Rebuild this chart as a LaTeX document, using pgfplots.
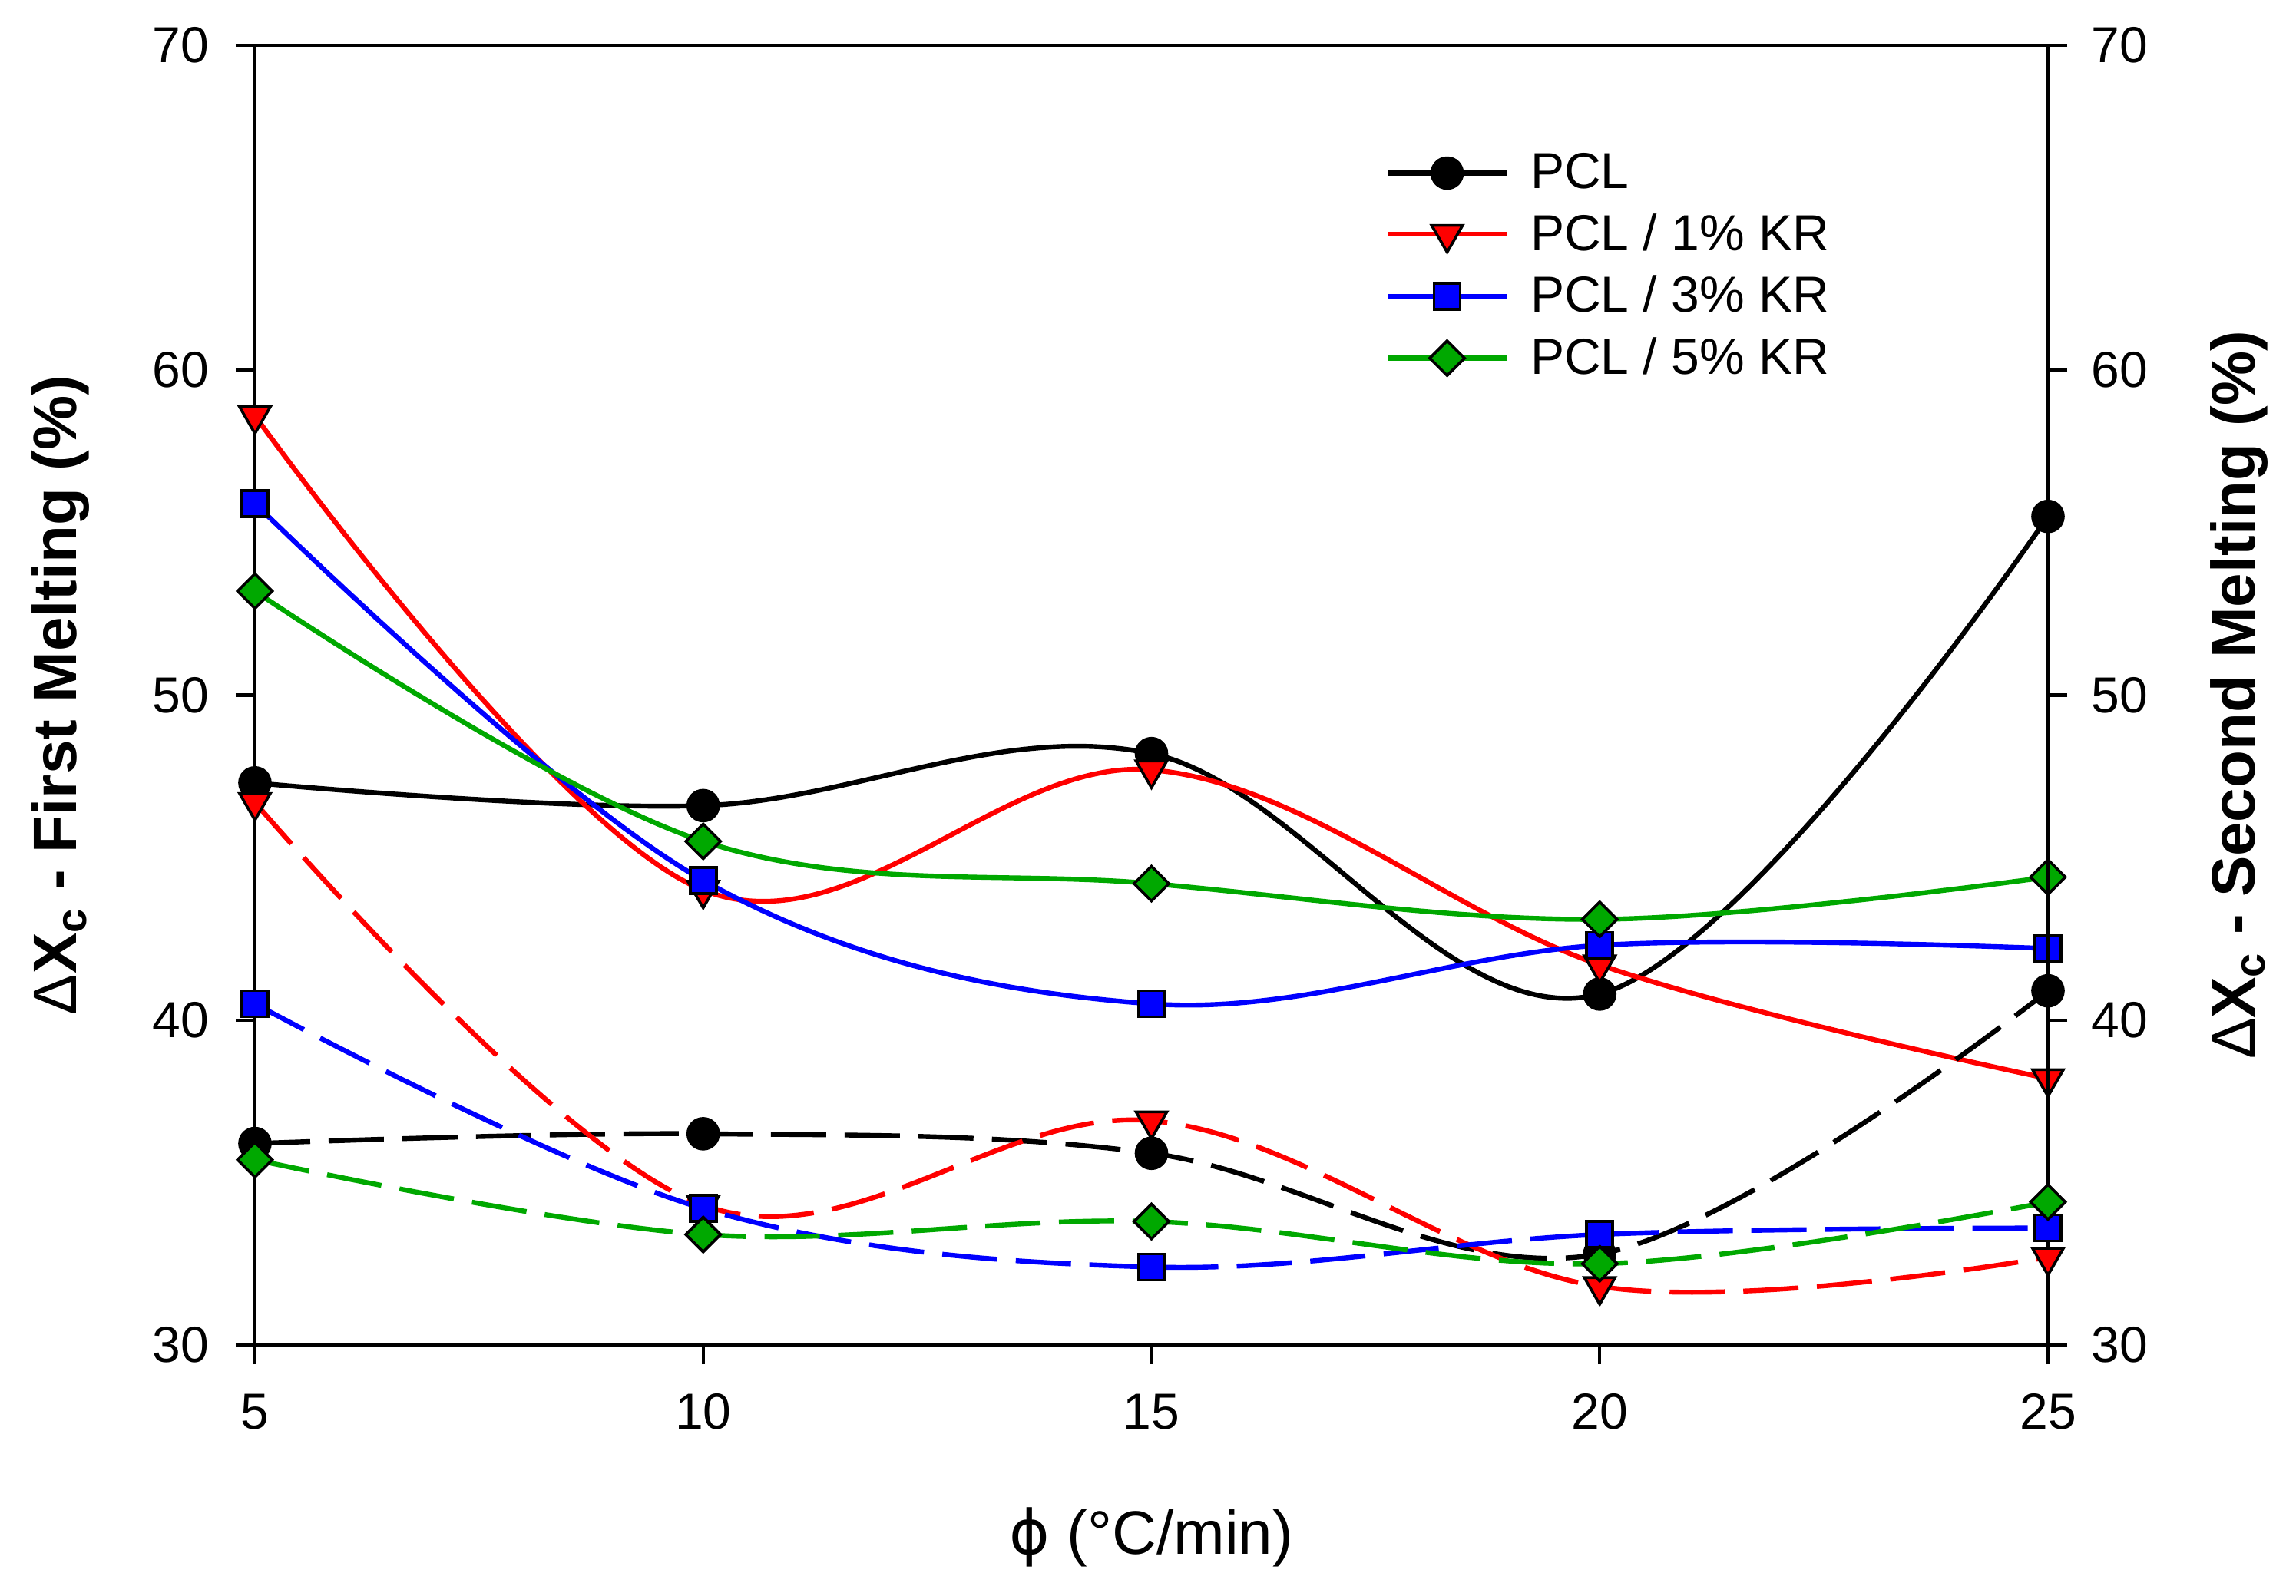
\documentclass[border=0pt]{standalone}
\usepackage{fontspec}
\setmainfont{Liberation Sans}
\newfontfamily\dejavu{DejaVu Sans}
\usepackage{pgfplots}
\pgfplotsset{compat=1.18}
\definecolor{spred}{RGB}{255,0,0}
\definecolor{spblue}{RGB}{0,0,255}
\definecolor{spgreen}{RGB}{0,168,0}
\tikzset{mk/.style={solid, draw=black, line width=0.9pt}}
\begin{document}
\begin{tikzpicture}
\useasboundingbox (-83pt,-81.75pt) rectangle (664.5pt,438pt);
\pgfplotsset{
  common/.style={
    at={(0pt,0pt)}, anchor=south west,
    scale only axis, width=583.75pt, height=423.25pt,
    xmin=5, xmax=25, ymin=30, ymax=70,
    clip=false,
    tick align=outside,
    major tick length=6.25pt,
    tick style={black, line width=1.1pt},
    axis line style={line width=1.1pt},
    tick label style={font=\fontsize{16.5}{18}\selectfont},
    /pgf/number format/assume math mode=true,
    ytick={30,40,50,60,70},
  },
  sol/.style={line width=1.6pt, smooth, tension=0.6},
  das/.style={line width=1.6pt, smooth, tension=0.6, dash pattern=on 18pt off 6pt},
}
\begin{axis}[common,
  xtick={5,10,15,20,25},
  xtick pos=left, ytick pos=left,
  xticklabel style={anchor=north, inner sep=0pt, yshift=-9.5pt},
  yticklabel style={anchor=east, inner sep=0pt, xshift=-8.5pt},
  xlabel={{\dejavu ϕ} (°C/min)},
  xlabel style={at={(axis description cs:0.5,-0.1607)}, anchor=base, font=\fontsize{20}{24}\selectfont},
  ylabel={{\mdseries Δ}X\textsubscript{c} - First Melting (\%)},
  ylabel style={at={(axis description cs:-0.0994,0.5)}, anchor=base, font=\fontsize{20}{24}\selectfont\bfseries},
  legend image code/.code={\draw[mark repeat=2,mark phase=2,#1] plot coordinates {(0pt,0pt) (19.375pt,0pt) (38.75pt,0pt)};},
  legend cell align=left,
  legend style={draw=none, fill=none, inner sep=0pt,
    at={(axis description cs:0.630,0.8302)}, anchor=west,
    row sep=2.7pt, font=\fontsize{16.5}{18}\selectfont,
    /tikz/every odd column/.append style={column sep=5pt}},
]
\addplot[sol, black, mark=*, mark size=5pt, mark options={mk, fill=black}]
  coordinates {(5,47.3) (10,46.6) (15,48.2) (20,40.8) (25,55.5)};
\addlegendentry{PCL}
\addplot[sol, spred, mark=triangle*, mark size=5.8pt, mark options={mk, fill=spred, rotate=180}]
  coordinates {(5,58.6) (10,44.0) (15,47.7) (20,41.7) (25,38.2)};
\addlegendentry{PCL / 1\% KR}
\addplot[sol, spblue, mark=square*, mark size=4.25pt, mark options={mk, fill=spblue}]
  coordinates {(5,55.9) (10,44.3) (15,40.5) (20,42.3) (25,42.2)};
\addlegendentry{PCL / 3\% KR}
\addplot[sol, spgreen, mark=square*, mark size=4pt, mark options={mk, fill=spgreen, rotate=45}]
  coordinates {(5,53.2) (10,45.5) (15,44.2) (20,43.1) (25,44.4)};
\addlegendentry{PCL / 5\% KR}
\end{axis}
\begin{axis}[common,
  axis x line=none, axis y line*=right, ytick pos=right,
  yticklabel style={anchor=west, inner sep=0pt, xshift=7.75pt},
  ylabel={{\mdseries Δ}X\textsubscript{c} - Second Melting (\%)},
  ylabel style={at={(axis description cs:1.1156,0.5)}, anchor=base, font=\fontsize{20}{24}\selectfont\bfseries},
]
\addplot[das, black, mark=*, mark size=5pt, mark options={mk, fill=black}]
  coordinates {(5,36.2) (10,36.5) (15,35.9) (20,32.8) (25,40.9)};
\addplot[das, spred, mark=triangle*, mark size=5.8pt, mark options={mk, fill=spred, rotate=180}]
  coordinates {(5,46.7) (10,34.3) (15,36.9) (20,31.8) (25,32.7)};
\addplot[das, spblue, mark=square*, mark size=4.25pt, mark options={mk, fill=spblue}]
  coordinates {(5,40.5) (10,34.2) (15,32.4) (20,33.4) (25,33.6)};
\addplot[das, spgreen, mark=square*, mark size=4pt, mark options={mk, fill=spgreen, rotate=45}]
  coordinates {(5,35.7) (10,33.4) (15,33.8) (20,32.5) (25,34.4)};
\end{axis}
\end{tikzpicture}
\end{document}
